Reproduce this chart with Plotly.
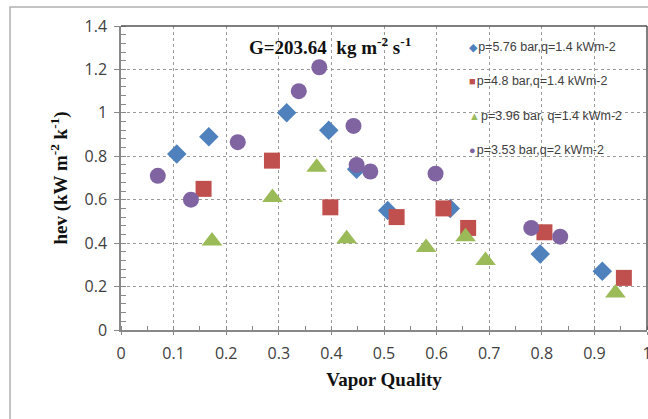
import plotly.graph_objects as go

# Data
x_576 = [0.106, 0.167, 0.315, 0.395, 0.448, 0.507, 0.626, 0.797, 0.915]
y_576 = [0.81, 0.89, 1.00, 0.92, 0.74, 0.55, 0.56, 0.35, 0.27]

x_48 = [0.157, 0.287, 0.398, 0.524, 0.613, 0.660, 0.805, 0.956]
y_48 = [0.65, 0.78, 0.565, 0.52, 0.56, 0.47, 0.45, 0.24]

x_396 = [0.173, 0.288, 0.372, 0.429, 0.580, 0.655, 0.693, 0.940]
y_396 = [0.41, 0.61, 0.75, 0.42, 0.38, 0.43, 0.32, 0.17]

x_353 = [0.070, 0.133, 0.222, 0.338, 0.377, 0.442, 0.448, 0.474, 0.598, 0.780, 0.835]
y_353 = [0.71, 0.60, 0.865, 1.10, 1.21, 0.94, 0.76, 0.73, 0.72, 0.47, 0.43]

series_names = ["p=5.76 bar,q=1.4 kWm-2", "p=4.8 bar,q=1.4 kWm-2",
                "p=3.96 bar, q=1.4 kWm-2", "p=3.53 bar,q=2 kWm-2"]
colors = ["#4F81BD", "#C0504D", "#9BBB59", "#8064A2"]
symbols = ["diamond", "square", "triangle-up", "circle"]
glyphs = ["\u25C6", "\u25A0", "\u25B2", "\u25CF"]
sizes = [15, 16, 18, 16]

xt = [0, 0.1, 0.2, 0.3, 0.4, 0.5, 0.6, 0.7, 0.8, 0.9, 1]
xt_labels = ["0", "0.1", "0.2", "0.3", "0.4", "0.5", "0.6", "0.7", "0.8", "0.9", "1"]
yt = [0, 0.2, 0.4, 0.6, 0.8, 1.0, 1.2, 1.4]
yt_labels = ["0", "0.2", "0.4", "0.6", "0.8", "1", "1.2", "1.4"]

fig = go.Figure()
for xs, ys, name, c, s, sz in zip([x_576, x_48, x_396, x_353],
                                  [y_576, y_48, y_396, y_353],
                                  series_names, colors, symbols, sizes):
    fig.add_trace(go.Scatter(x=xs, y=ys, mode="markers", name=name,
                             marker=dict(color=c, symbol=s, size=sz, line=dict(width=0)),
                             showlegend=False, cliponaxis=False))

# legend drawn as annotations
leg_y = [0.932, 0.818, 0.705, 0.592]
for name, c, g, ly in zip(series_names, colors, glyphs, leg_y):
    fig.add_annotation(xref="paper", yref="paper", x=0.658, y=ly, xanchor="left", yanchor="middle",
                       showarrow=False,
                       text=f"<span style='color:{c};font-size:11px'>{g}</span><span style='font-size:4px'> </span>{name}",
                       font=dict(family="Liberation Sans, Arial", size=12.5, color="#404040"))

fig.add_annotation(xref="paper", yref="paper", x=0.397, y=0.935, xanchor="center", yanchor="middle",
                   showarrow=False,
                   text="<b>G=203.64  kg m<sup>-2</sup> s<sup>-1</sup></b>",
                   font=dict(family="Liberation Serif, Times New Roman", size=19, color="#111111"))

axis_font = dict(family="Open Sans, Liberation Sans", size=16, color="#404040")
title_font = dict(family="Liberation Serif, Times New Roman", size=19, color="#111111")

fig.update_xaxes(range=[0, 1], tickvals=xt, ticktext=xt_labels, showgrid=True,
                 gridcolor="#9a9a9a", griddash="dot", gridwidth=1,
                 showline=True, linecolor="#888888", linewidth=1.5,
                 ticks="outside", ticklen=3, tickcolor="#888888",
                 minor=dict(dtick=0.05, ticks="inside", ticklen=4, tickcolor="#888888", showgrid=False),
                 tickfont=axis_font, ticklabelstandoff=5, zeroline=False,
                 ticklabeloverflow="allow",
                 title=dict(text="<b>Vapor Quality</b>", font=title_font, standoff=10))
fig.update_yaxes(range=[0, 1.4], tickvals=yt, ticktext=yt_labels, showgrid=True,
                 gridcolor="#9a9a9a", griddash="dot", gridwidth=1,
                 showline=True, linecolor="#888888", linewidth=1.5,
                 ticks="outside", ticklen=5, tickcolor="#888888",
                 minor=dict(dtick=0.04, ticks="inside", ticklen=5, tickcolor="#888888", showgrid=False),
                 tickfont=axis_font, ticklabelstandoff=4, zeroline=False,
                 title=dict(text="<b>hev (kW m<sup>-2</sup> k<sup>-1</sup>)</b>", font=title_font, standoff=12))

# top & right border of plot area
fig.add_shape(type="line", xref="paper", yref="paper", x0=0, x1=1, y0=1, y1=1,
              line=dict(color="#555555", width=1.5))
fig.add_shape(type="line", xref="paper", yref="paper", x0=1, x1=1, y0=0, y1=1,
              line=dict(color="#555555", width=1.5))
# outer chart frame
fig.add_shape(type="rect", xref="paper", yref="paper", x0=-0.211, x1=1.2, y0=-0.4, y1=1.0625,
              line=dict(color="#b0b0b0", width=1.5), layer="below")

fig.update_layout(width=648, height=419, margin=dict(l=121, r=1, t=26, b=89, autoexpand=False),
                  plot_bgcolor="white", paper_bgcolor="white", showlegend=False)

fig.write_html("out.html")
